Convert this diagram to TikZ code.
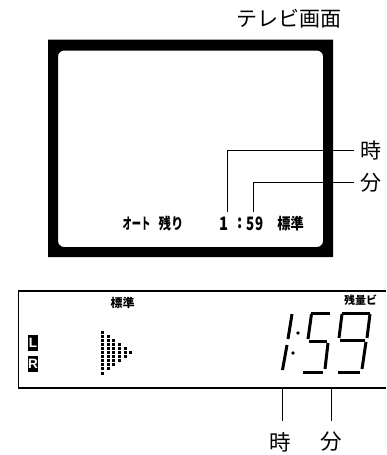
\documentclass[tikz,border=0pt]{standalone}
\usepackage{fontspec}
\newfontfamily\jp{Noto Sans CJK JP}
\newfontfamily\lib{Liberation Sans}
\tikzset{
  lead/.style={line width=1.3pt},
  seg/.style={line width=3pt},
  panelline/.style={line width=1.4pt},
  lbl/.style={inner sep=0pt, font=\jp\fontsize{21}{21}\selectfont},
  tvt/.style={inner sep=0pt, font=\jp\bfseries\fontsize{15.5}{15.5}\selectfont},
  tvd/.style={inner sep=0pt, font=\jp\bfseries\fontsize{18.5}{18.5}\selectfont},
  small/.style={inner sep=0pt, font=\jp\bfseries\fontsize{12}{12}\selectfont},
  lrbox/.style={fill=black, text=white, inner sep=0pt, minimum width=10.5pt, minimum height=16pt, font=\lib\bfseries\fontsize{13.5}{13.5}\selectfont},
  dot/.style={fill=black}
}
\begin{document}
\begin{tikzpicture}[x=1pt,y=-1pt]
\useasboundingbox (0,0) rectangle (386,455);
% title
\node[lbl, font=\jp\fontsize{21}{21}\selectfont] (title) at (288.5,19) {テレビ画面};
% TV frame
\fill[even odd rule] (48,39.5) rectangle (333,257) [rounded corners=6pt] (58,50.5) rectangle (323,247);
% TV text
\node[tvt] (tvauto) at (136.5,223.5) {\scalebox{0.6}[1]{オート}};
\node[tvt] (tvzan) at (171,223.5) {\scalebox{0.8}[1]{残り}};
\node[tvd] (tvone) at (224.5,223.5) {\scalebox{0.8}[1]{1}};
\node[tvd] (tvcolon) at (240,223.5) {\scalebox{0.8}[1]{:}};
\node[tvd] (tvfs) at (255,223.5) {\scalebox{0.72}[1]{59}};
\node[tvt] (tvhyo) at (290.5,223.5) {\scalebox{0.85}[1]{標準}};
% right labels
\node[lbl] (hr) at (371,150.5) {時};
\node[lbl] (mn) at (371,182.5) {分};
\coordinate (hrend) at (354,150.5);
\coordinate (mnend) at (354,182.5);
\coordinate (hrtop) at (227.5,212);
\coordinate (mntop) at (253.5,212);
\draw[lead] (hrtop) |- (hrend);
\draw[lead] (mntop) |- (mnend);
% panel
\draw[panelline] (386,291) -- (18.5,291) -- (18.5,388) -- (386,388);
\node[small] (phyo) at (122.5,303) {標準};
\node[small, font=\jp\bfseries\fontsize{11}{11}\selectfont] (pzan) at (360.5,300) {残量ビ};
\node[lrbox] (lbox) at (33,343) {L};
\node[lrbox] (rbox) at (33,364) {R};
% dots triangle
\foreach \r in {0,...,10} {
  \pgfmathtruncatemacro\nn{5-abs(\r-5)}
  \foreach \c in {0,...,\nn} {
    \fill[dot] ({102.7+5.6*\c-1.5},{332+4.1*\r-1.5}) rectangle ++(3,3);
  }
}
% seven segment 1:59
\draw[seg] (292,314) -- (288,339);
\draw[seg] (287,345) -- (282.5,370);
\fill (298,333) circle (1.8);
\fill (293,353) circle (1.8);
% 5
\draw[seg] (311,313) -- (330,313);
\draw[seg] (311.5,314) -- (308,339);
\draw[seg] (309,341) -- (327,341);
\draw[seg] (328,343) -- (325,369);
\draw[seg] (303,372) -- (323,372);
% 9
\draw[seg] (342,313) -- (370,313);
\draw[seg] (342,314) -- (339,338);
\draw[seg] (370,314) -- (367,338);
\draw[seg] (340,340) -- (365,340);
\draw[seg] (366,342) -- (362,369);
\draw[seg] (338,372) -- (360,372);
% bottom leaders
\node[lbl, font=\jp\fontsize{21.5}{21.5}\selectfont] (bhr) at (280,442) {時};
\node[lbl, font=\jp\fontsize{21.5}{21.5}\selectfont] (bmn) at (331,442) {分};
\coordinate (bhrtop) at (282.5,388);
\coordinate (bmntop) at (331.5,388);
\draw[lead] (bhrtop) -- (bhrtop |- 0,421);
\draw[lead] (bmntop) -- (bmntop |- 0,421);
\end{tikzpicture}
\end{document}
